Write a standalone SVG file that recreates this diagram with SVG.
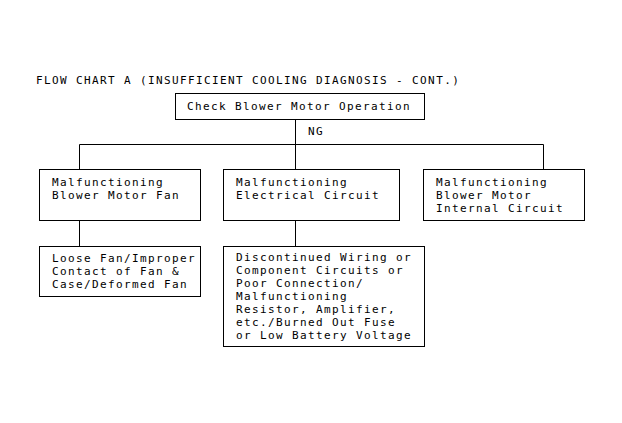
<svg xmlns="http://www.w3.org/2000/svg" width="622" height="423" viewBox="0 0 622 423">
<style>
text{font-family:"DejaVu Sans Mono","Liberation Mono",monospace;font-size:11px;letter-spacing:1.38px;fill:#000}
rect{fill:#fff;stroke:#000;stroke-width:1}
.c line{stroke:#000;stroke-width:1}
</style>
<rect x="0" y="0" width="622" height="423" style="stroke:none"/>
<text x="36" y="84">FLOW CHART A (INSUFFICIENT COOLING DIAGNOSIS - CONT.)</text>
<g class="c" id="connectors">
<line x1="295.5" y1="119.5" x2="295.5" y2="169.5"/>
<line x1="79.5" y1="144.5" x2="543.5" y2="144.5"/>
<line x1="79.5" y1="144.5" x2="79.5" y2="169.5"/>
<line x1="543.5" y1="144.5" x2="543.5" y2="169.5"/>
<line x1="79.5" y1="220.5" x2="79.5" y2="246.5"/>
<line x1="295.5" y1="220.5" x2="295.5" y2="246.5"/>
<text x="308" y="135">NG</text>
</g>
<g id="check">
<rect x="175.5" y="93.5" width="249" height="26"/>
<text x="187" y="110">Check Blower Motor Operation</text>
</g>
<g id="fan">
<rect x="39.5" y="169.5" width="161" height="51"/>
<text x="52" y="186">Malfunctioning</text>
<text x="52" y="199">Blower Motor Fan</text>
</g>
<g id="electrical">
<rect x="223.5" y="169.5" width="176" height="51"/>
<text x="236" y="186">Malfunctioning</text>
<text x="236" y="199">Electrical Circuit</text>
</g>
<g id="internal">
<rect x="423.5" y="169.5" width="161" height="51"/>
<text x="436" y="186">Malfunctioning</text>
<text x="436" y="199">Blower Motor</text>
<text x="436" y="212">Internal Circuit</text>
</g>
<g id="loose">
<rect x="39.5" y="246.5" width="161" height="50"/>
<text x="52" y="262">Loose Fan/Improper</text>
<text x="52" y="275">Contact of Fan &amp;</text>
<text x="52" y="288">Case/Deformed Fan</text>
</g>
<g id="wiring">
<rect x="223.5" y="246.5" width="201" height="100"/>
<text x="236" y="261">Discontinued Wiring or</text>
<text x="236" y="274">Component Circuits or</text>
<text x="236" y="287">Poor Connection/</text>
<text x="236" y="300">Malfunctioning</text>
<text x="236" y="313">Resistor, Amplifier,</text>
<text x="236" y="326">etc./Burned Out Fuse</text>
<text x="236" y="339">or Low Battery Voltage</text>
</g>
</svg>
